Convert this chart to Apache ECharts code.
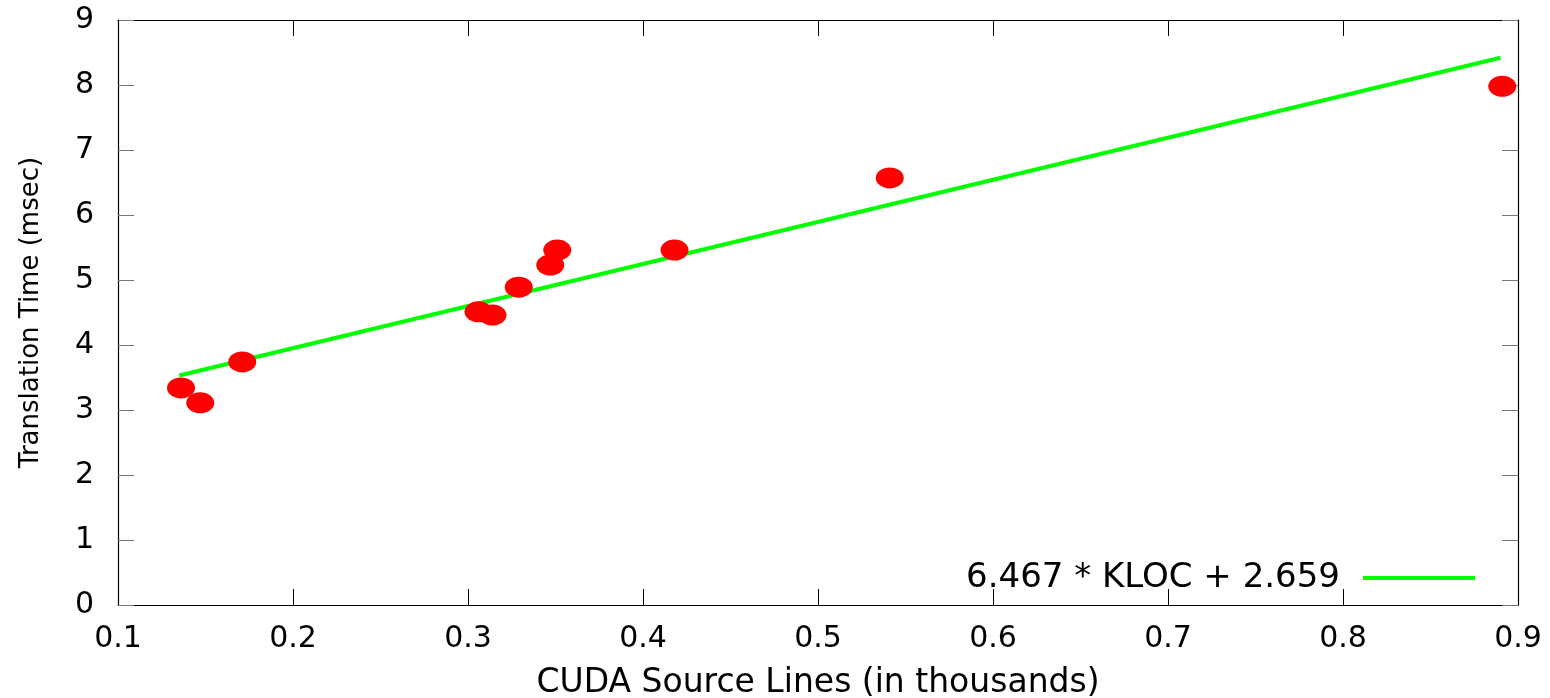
<!DOCTYPE html>
<html>
<head>
  <meta charset="UTF-8">
  <title>CUDA translation time</title>
  <script src="https://cdn.jsdelivr.net/npm/echarts@6/dist/echarts.min.js"></script>
  <style>
    html, body { margin: 0; padding: 0; background: #fff; }
    #main { width: 1550px; height: 698px; }
  </style>
</head>
<body>
<div id="main"></div>
<script>
  // measured points: KLOC vs msec
  var kloc = [0.136, 0.147, 0.171, 0.306, 0.314, 0.329, 0.347, 0.351, 0.418, 0.541, 0.891];
  var msec = [3.34, 3.11, 3.74, 4.51, 4.46, 4.89, 5.23, 5.46, 5.46, 6.57, 7.98];
  // fitted line, end points as drawn
  var fitX = [0.135, 0.890];
  var fitY = [3.53, 8.42];
  var fitName = '6.467 * KLOC + 2.659';

  var font = 'DejaVu Sans';
  var pts = kloc.map(function (x, i) { return [x, msec[i]]; });
  var fit = fitX.map(function (x, i) { return [x, fitY[i]]; });

  var xBase = {
    type: 'value', min: 0.1, max: 0.9, interval: 0.1,
    axisLine: { show: true, onZero: false, lineStyle: { color: '#000', width: 1.2 } },
    axisTick: { show: true, inside: true, length: 16, lineStyle: { color: '#000' } },
    splitLine: { show: false }
  };
  var yBase = {
    type: 'value', min: 0, max: 9, interval: 1,
    axisLine: { show: true, onZero: false, lineStyle: { color: '#000', width: 1.2 } },
    axisTick: { show: true, inside: true, length: 16, lineStyle: { color: '#777' } },
    splitLine: { show: false }
  };

  var option = {
    backgroundColor: '#fff',
    animation: false,
    grid: { left: 118, right: 32, top: 20, bottom: 93, outerBoundsMode: 'none' },
    xAxis: [
      Object.assign({}, xBase, {
        position: 'bottom',
        name: 'CUDA Source Lines (in thousands)',
        nameLocation: 'middle', nameGap: 62,
        nameTextStyle: { fontFamily: font, fontSize: 33, color: '#000' },
        axisLabel: { margin: 19, fontFamily: font, fontSize: 30, color: '#000',
          formatter: function (v) { return v.toFixed(1); } }
      }),
      Object.assign({}, xBase, { position: 'top', axisLabel: { show: false } })
    ],
    yAxis: [
      Object.assign({}, yBase, {
        position: 'left',
        name: 'Translation Time (msec)',
        nameLocation: 'middle', nameGap: 74,
        nameTextStyle: { fontFamily: font, fontSize: 26, color: '#000' },
        axisLabel: { margin: 24, fontFamily: font, fontSize: 30, color: '#000' }
      }),
      Object.assign({}, yBase, { position: 'right', axisLabel: { show: false } })
    ],
    legend: {
      data: [{ name: fitName, icon: 'rect' }],
      right: 75, top: 561, padding: 0,
      align: 'right',
      itemWidth: 112, itemHeight: 4,
      textStyle: { fontFamily: font, fontSize: 34, color: '#000', padding: [0, 18, 0, 0] }
    },
    series: [
      {
        type: 'scatter',
        data: pts,
        symbol: 'circle',
        symbolSize: [28, 21],
        itemStyle: { color: '#ff0000', opacity: 1 },
        z: 3
      },
      {
        name: fitName,
        type: 'line',
        data: fit,
        showSymbol: false,
        symbol: 'none',
        lineStyle: { color: '#00ff00', width: 4 },
        itemStyle: { color: '#00ff00' },
        z: 2
      }
    ]
  };
  echarts.init(document.getElementById('main')).setOption(option);
</script>
</body>
</html>
